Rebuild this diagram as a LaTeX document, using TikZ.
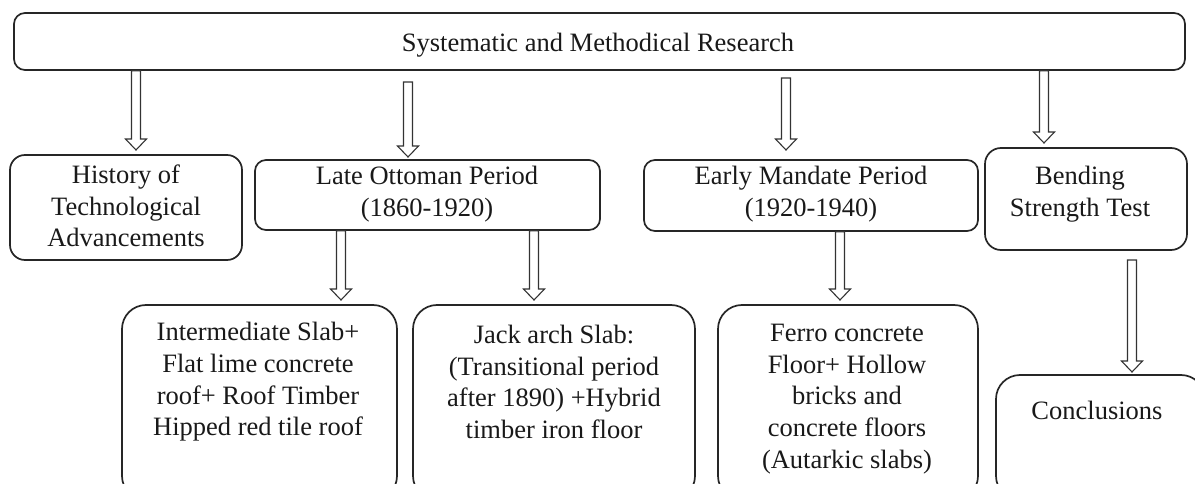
\documentclass[tikz,border=0pt]{standalone}
\usepackage{fontspec}
\setmainfont{Liberation Serif}
\usetikzlibrary{calc}
\tikzset{
  box/.style={draw=black!85, line width=1.7pt, rounded corners=11pt, inner sep=0pt},
  bigbox/.style={box, rounded corners=24pt},
  txt/.style={align=center, font=\fontsize{26.5}{31.7}\selectfont, inner sep=0pt, text=black!90},
  harrow/.style={draw=black!80, line width=1.1pt, fill=white},
}
\newcommand\hollowarrow[2]{\draw[harrow] let \p1=(#1), \p2=(#2) in
  (\x1-4.5pt,\y1) -- (\x1-4.5pt,\y2+11pt) -- (\x1-10.5pt,\y2+11pt) -- (\x1,\y2)
  -- (\x1+10.5pt,\y2+11pt) -- (\x1+4.5pt,\y2+11pt) -- (\x1+4.5pt,\y1) -- cycle;}
\begin{document}
\begin{tikzpicture}[x=1pt,y=-1pt]
\useasboundingbox (0,0) rectangle (1195,484);
\clip (0,0) rectangle (1195,484);
% boxes
\node[box, minimum width=1171pt, minimum height=57pt] (top) at (599.5,41.5) {};
\node[box, rounded corners=15pt, minimum width=232pt, minimum height=105pt] (hist) at (126,207.5) {};
\node[box, minimum width=345pt, minimum height=70pt] (lo) at (427.5,195) {};
\node[box, minimum width=334pt, minimum height=71pt] (em) at (811,195.5) {};
\node[box, rounded corners=16pt, minimum width=202pt, minimum height=102pt] (bend) at (1086,199) {};
\node[bigbox, minimum width=275pt, minimum height=195pt] (inter) at (259.5,402.5) {};
\node[bigbox, minimum width=282pt, minimum height=195pt] (jack) at (554,402.5) {};
\node[bigbox, minimum width=260pt, minimum height=195pt] (ferro) at (848,402.5) {};
\node[bigbox, minimum width=209pt, minimum height=125pt] (concl) at (1100.5,437.5) {};
% texts
\node[txt] (ttop) at (598,45) {Systematic and Methodical Research};
\node[txt] (thist) at (126,206) {History of\\Technological\\Advancements};
\node[txt] (tlo) at (427,194) {Late Ottoman Period\\(1860-1920)};
\node[txt] (tem) at (811,194) {Early Mandate Period\\(1920-1940)};
\node[txt] (tbend) at (1080,194) {Bending\\Strength Test};
\node[txt] (tinter) at (258,382) {Intermediate Slab+\\Flat lime concrete\\roof+ Roof Timber\\Hipped red tile roof};
\node[txt] (tjack) at (554,382) {Jack arch Slab:\\(Transitional period\\after 1890) +Hybrid\\timber iron floor};
\node[txt] (tferro) at (847,399) {Ferro concrete\\Floor+ Hollow\\bricks and\\concrete floors\\(Autarkic slabs)};
\node[txt] (tconcl) at (1097,410) {Conclusions};
% arrow end points
\coordinate (a1s) at (136,0 |- top.south);
\coordinate (a1e) at (136,150);
\coordinate (a2s) at (408,82);
\coordinate (a2e) at (408,157);
\coordinate (a3s) at (786,78);
\coordinate (a3e) at (786,150);
\coordinate (a4s) at (1044,0 |- top.south);
\coordinate (a4e) at (1044,143);
\coordinate (b1s) at (341,0 |- lo.south);
\coordinate (b1e) at (341,300);
\coordinate (b2s) at (534,0 |- lo.south);
\coordinate (b2e) at (534,300);
\coordinate (b3s) at (840,0 |- em.south);
\coordinate (b3e) at (840,300);
\coordinate (b4s) at (1132,260);
\coordinate (b4e) at (1132,372);
\hollowarrow{a1s}{a1e}
\hollowarrow{a2s}{a2e}
\hollowarrow{a3s}{a3e}
\hollowarrow{a4s}{a4e}
\hollowarrow{b1s}{b1e}
\hollowarrow{b2s}{b2e}
\hollowarrow{b3s}{b3e}
\hollowarrow{b4s}{b4e}
\end{tikzpicture}
\end{document}
